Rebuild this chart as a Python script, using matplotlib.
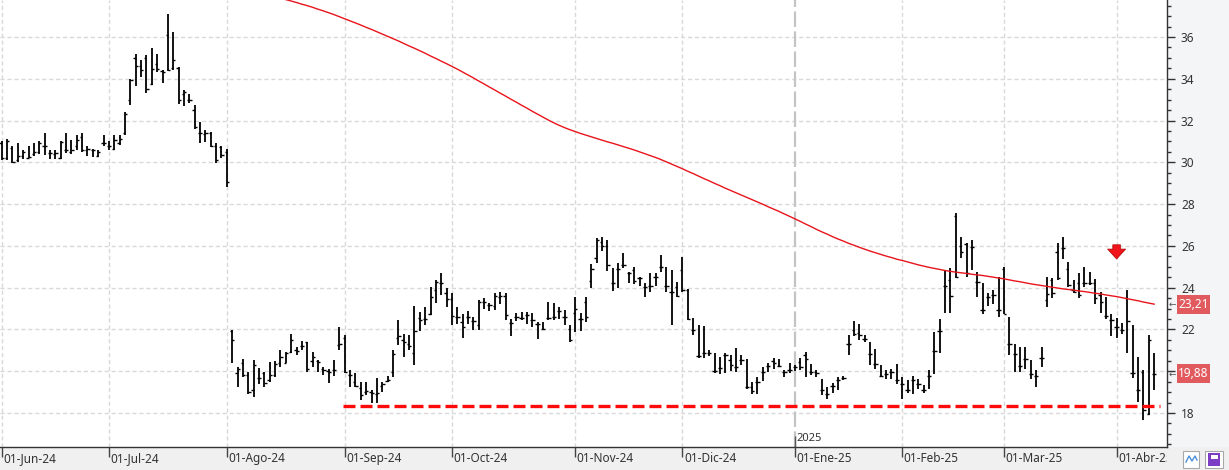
import matplotlib
matplotlib.use('Agg')
import matplotlib.pyplot as plt
import matplotlib.transforms as mtransforms
from matplotlib.patches import Rectangle
from matplotlib.ticker import MultipleLocator
import numpy as np
import pandas as pd

plt.rcParams['font.family'] = ['Noto Sans', 'DejaVu Sans']

# trading calendar (daily bars)
FIRST_DAY = '2024-06-03'
LAST_DAY = '2025-04-10'
HOLIDAYS = ['2024-07-04', '2024-09-02', '2024-11-28', '2024-12-25',
            '2025-01-01', '2025-01-09', '2025-01-20', '2025-02-17']
MESES = {1: 'Ene', 2: 'Feb', 3: 'Mar', 4: 'Abr', 5: 'May', 6: 'Jun',
         7: 'Jul', 8: 'Ago', 9: 'Sep', 10: 'Oct', 11: 'Nov', 12: 'Dic'}

opens = [
    30.9, 30.2, 30.7, 30.1, 30.3, 30.2, 30.4, 30.5, 30.8, 30.45,
    30.4, 30.2, 30.6, 30.5, 30.8, 31.2, 30.6, 30.6, 30.3, 30.9,
    30.8, 30.65, 30.9, 31.4, 33.0, 35.0, 34.6, 35.0, 33.75, 34.7,
    34.35, 36.1, 34.5, 34.5, 33.25, 33.0, 32.5, 31.4, 31.35, 31.4,
    30.8, 30.75, 30.5, 21.9, 19.9, 20.4, 19.8, 19.1, 19.65, 19.9,
    19.6, 19.8, 20.4, 20.4, 20.9, 21.0, 21.2, 21.4, 20.5, 20.5,
    20.1, 20.0, 20.05, 21.25, 21.6, 19.8, 19.5, 19.2, 19.0, 19.0,
    18.9, 19.3, 19.55, 19.95, 21.6, 21.5, 21.3, 20.85, 22.55, 22.5,
    22.75, 23.9, 24.2, 23.72, 23.45, 22.6, 22.36, 22.6, 22.4, 22.2,
    23.3, 23.15, 23.1, 23.55, 23.6, 22.3, 22.6, 22.55, 22.7, 22.44,
    22.25, 22.04, 22.55, 22.6, 22.9, 22.6, 22.0, 22.8, 22.5, 23.3,
    24.3, 25.4, 26.2, 26.0, 24.2, 24.9, 25.1, 24.7, 24.84, 24.45,
    24.05, 24.1, 24.52, 25.0, 24.1, 23.8, 24.05, 24.84, 23.9, 21.97,
    20.73, 20.85, 20.85, 20.0, 20.13, 20.77, 20.55, 20.2, 20.55, 19.25,
    19.25, 19.5, 19.97, 20.25, 20.5, 20.25, 19.97, 20.05, 20.2, 20.45,
    20.77, 19.96, 19.96, 19.1, 18.92, 19.3, 19.59, 19.68, 21.28, 21.99,
    21.85, 21.56, 20.8, 20.33, 19.76, 19.88, 19.96, 19.56, 19.4, 19.08,
    19.56, 19.4, 19.08, 19.75, 20.97, 21.93, 24.07, 24.36, 27.45, 25.99,
    26.08, 25.93, 24.28, 22.95, 23.56, 23.64, 22.95, 24.9, 21.32, 20.84,
    20.23, 20.6, 19.88, 19.75, 20.65, 23.4, 24.36, 25.72, 25.88, 24.88,
    23.88, 24.2, 24.2, 24.2, 24.2, 23.64, 22.64, 22.44, 22.1, 21.96,
    23.48, 19.89, 19.12, 19.97, 17.97, 19.86,
]
highs = [
    31.0, 31.1, 30.8, 30.9, 30.6, 30.8, 30.9, 31.0, 31.4, 30.6,
    30.6, 31.0, 31.4, 31.05, 31.3, 31.4, 30.8, 30.65, 30.6, 31.3,
    31.0, 31.3, 31.3, 32.4, 34.0, 35.2, 34.9, 35.15, 35.45, 35.2,
    34.4, 37.1, 36.25, 34.55, 33.45, 33.25, 32.75, 31.95, 31.55, 31.45,
    30.9, 30.8, 30.65, 21.97, 20.2, 20.6, 19.97, 20.53, 20.13, 19.97,
    20.45, 20.5, 21.0, 20.9, 21.8, 21.17, 21.45, 21.4, 20.9, 20.53,
    20.2, 20.1, 20.55, 22.1, 21.75, 20.05, 19.9, 19.5, 19.5, 19.1,
    19.65, 19.5, 19.75, 21.0, 22.45, 21.8, 21.75, 23.1, 22.84, 23.05,
    24.05, 24.35, 24.68, 23.96, 23.72, 23.08, 22.76, 22.88, 22.6, 23.4,
    23.48, 23.27, 23.72, 23.8, 23.72, 22.52, 22.8, 22.84, 22.84, 22.8,
    22.36, 22.36, 23.32, 23.27, 23.08, 22.92, 22.2, 23.57, 22.8, 23.55,
    25.15, 26.36, 26.44, 26.28, 24.92, 25.16, 25.64, 24.76, 25.0, 24.52,
    24.21, 24.68, 24.71, 25.56, 24.97, 24.84, 24.28, 25.45, 23.92, 22.53,
    22.21, 22.16, 21.01, 20.85, 20.69, 20.85, 20.77, 21.09, 20.77, 20.56,
    19.49, 19.73, 20.21, 20.4, 20.61, 20.56, 20.05, 20.37, 20.3, 20.61,
    20.93, 20.33, 20.05, 19.64, 19.24, 19.43, 19.72, 19.75, 21.72, 22.41,
    22.28, 21.72, 21.4, 21.08, 20.28, 20.04, 20.12, 20.33, 19.72, 19.56,
    19.75, 19.64, 19.32, 20.04, 21.88, 22.52, 24.84, 24.92, 27.56, 26.44,
    26.12, 26.28, 24.76, 24.2, 23.75, 23.91, 24.52, 25.0, 22.6, 21.29,
    21.16, 21.16, 20.52, 20.04, 21.16, 24.52, 24.44, 26.12, 26.44, 25.24,
    24.36, 24.68, 25.0, 24.76, 24.4, 23.8, 23.56, 22.76, 22.56, 22.3,
    23.88, 22.2, 20.69, 20.05, 21.72, 20.85,
]
lows = [
    30.1, 30.1, 29.95, 30.0, 30.15, 30.2, 30.3, 30.4, 30.35, 30.15,
    30.15, 30.15, 30.45, 30.4, 30.6, 30.5, 30.3, 30.25, 30.25, 30.8,
    30.6, 30.6, 30.85, 31.3, 32.75, 33.65, 34.1, 33.3, 33.7, 34.3,
    33.8, 34.35, 34.4, 32.8, 32.7, 32.85, 31.6, 30.9, 30.95, 30.75,
    29.95, 30.2, 28.8, 20.37, 19.25, 19.73, 18.93, 18.77, 19.41, 19.25,
    19.49, 19.73, 20.2, 20.37, 20.85, 20.77, 21.0, 19.97, 20.2, 19.97,
    19.8, 19.45, 19.75, 21.0, 19.9, 19.25, 19.25, 18.6, 18.85, 18.5,
    18.5, 19.0, 19.5, 19.73, 21.25, 20.7, 21.0, 20.3, 21.9, 22.2,
    22.7, 23.25, 23.65, 23.08, 22.2, 22.28, 21.6, 22.28, 21.98, 21.98,
    23.0, 22.9, 22.95, 23.24, 22.44, 21.68, 22.4, 22.44, 22.24, 22.12,
    21.56, 21.96, 22.44, 22.44, 22.5, 22.2, 21.4, 21.89, 21.9, 22.37,
    23.97, 25.16, 25.77, 24.81, 23.85, 23.97, 24.92, 24.21, 24.18, 24.08,
    23.54, 23.81, 24.08, 24.76, 23.81, 22.21, 23.57, 23.81, 22.45, 21.73,
    20.61, 20.61, 20.73, 19.93, 19.86, 19.93, 20.02, 19.97, 20.3, 19.17,
    18.93, 18.93, 19.54, 19.97, 20.09, 20.18, 19.73, 19.89, 20.0, 20.05,
    19.72, 19.81, 19.72, 18.84, 18.68, 18.95, 19.11, 19.56, 20.76, 21.69,
    21.48, 21.4, 20.28, 20.12, 19.72, 19.64, 19.64, 19.37, 18.68, 18.95,
    18.92, 19.16, 18.95, 19.16, 19.85, 20.87, 22.79, 22.79, 24.44, 25.4,
    24.52, 24.84, 23.56, 22.76, 23.12, 23.24, 22.6, 22.76, 20.76, 19.96,
    19.96, 20.12, 19.64, 19.24, 20.2, 23.08, 23.48, 24.36, 25.36, 24.04,
    23.72, 23.48, 24.04, 24.12, 23.24, 22.8, 22.48, 21.68, 21.6, 21.76,
    20.85, 19.65, 18.53, 17.65, 17.89, 19.09,
]
closes = [
    30.2, 31.0, 30.0, 30.3, 30.5, 30.25, 30.5, 30.9, 30.8, 30.45,
    30.45, 30.95, 30.6, 30.6, 31.05, 30.6, 30.65, 30.6, 30.5, 30.9,
    30.8, 31.05, 31.1, 32.3, 33.95, 34.6, 34.4, 33.5, 34.45, 34.45,
    34.3, 34.4, 34.9, 33.0, 33.35, 33.0, 31.7, 31.4, 31.4, 30.8,
    30.1, 30.35, 29.05, 21.5, 20.1, 19.8, 19.0, 20.3, 19.65, 19.45,
    19.8, 20.35, 20.7, 20.85, 21.5, 20.95, 21.2, 20.1, 20.7, 20.45,
    20.05, 19.95, 20.05, 21.3, 19.95, 19.8, 19.3, 18.85, 19.05, 18.95,
    18.95, 19.4, 19.6, 20.8, 21.7, 21.4, 21.2, 21.9, 22.45, 22.5,
    23.55, 24.28, 24.2, 23.45, 22.65, 22.6, 22.1, 22.6, 22.4, 23.3,
    23.3, 23.15, 23.6, 23.6, 22.68, 22.3, 22.6, 22.55, 22.7, 22.44,
    22.25, 22.04, 22.55, 22.6, 22.9, 22.6, 21.5, 23.0, 22.5, 22.6,
    24.9, 26.3, 26.0, 25.1, 24.2, 24.9, 25.1, 24.7, 24.3, 24.45,
    24.05, 24.1, 24.52, 25.0, 24.1, 23.8, 23.6, 23.9, 22.5, 21.97,
    20.73, 20.85, 20.85, 20.0, 20.13, 20.77, 20.3, 20.2, 20.55, 19.25,
    19.05, 19.5, 19.97, 20.25, 20.4, 20.25, 19.97, 20.05, 20.2, 20.2,
    20.6, 19.96, 19.9, 19.1, 18.92, 19.3, 19.59, 19.68, 21.28, 21.8,
    21.72, 21.56, 20.8, 20.33, 19.76, 19.88, 19.96, 19.56, 19.4, 19.08,
    19.56, 19.4, 19.08, 19.75, 20.97, 21.93, 24.07, 23.6, 24.52, 25.72,
    24.68, 25.93, 24.28, 22.95, 23.56, 23.64, 22.95, 22.76, 21.32, 20.84,
    20.23, 20.6, 19.88, 19.75, 20.65, 23.68, 23.72, 24.44, 25.88, 24.12,
    23.8, 23.64, 24.2, 24.2, 23.48, 23.32, 22.64, 22.44, 22.1, 21.96,
    22.4, 19.89, 19.12, 18.13, 21.48, 19.88,
]

# long moving average, only the part that falls inside the window (ends on last bar)
moving_avg = [
    37.85, 37.79, 37.72, 37.65, 37.57, 37.50, 37.42, 37.33, 37.25, 37.16, 37.07, 36.97,
    36.87, 36.77, 36.67, 36.57, 36.46, 36.36, 36.25, 36.14, 36.03, 35.92, 35.81,
    35.69, 35.57, 35.46, 35.34, 35.22, 35.09, 34.97, 34.84, 34.72, 34.59, 34.46,
    34.32, 34.18, 34.04, 33.89, 33.75, 33.60, 33.46, 33.31, 33.17, 33.02,
    32.88, 32.73, 32.59, 32.44, 32.30, 32.16, 32.02, 31.89, 31.77,
    31.66, 31.56, 31.47, 31.38, 31.30, 31.22, 31.14, 31.06, 30.98,
    30.91, 30.83, 30.75, 30.67, 30.59, 30.50, 30.41, 30.32,
    30.23, 30.13, 30.02, 29.91, 29.80, 29.69,
    29.57, 29.46, 29.34, 29.22, 29.11, 28.99, 28.88,
    28.76, 28.65, 28.54, 28.43, 28.32, 28.21, 28.10, 27.99,
    27.87, 27.76, 27.65, 27.53, 27.41, 27.29, 27.17,
    27.04, 26.92, 26.79, 26.67, 26.56, 26.44, 26.33, 26.23,
    26.12, 26.03, 25.93, 25.84, 25.75, 25.67, 25.59, 25.51, 25.44, 25.36, 25.30,
    25.23, 25.16, 25.09, 25.03, 24.97, 24.92, 24.87, 24.82,
    24.78, 24.74, 24.71, 24.68, 24.64, 24.61, 24.58, 24.54, 24.50, 24.46,
    24.42, 24.37, 24.32, 24.28, 24.23, 24.18, 24.14, 24.10, 24.06, 24.02,
    23.98, 23.94, 23.91, 23.88, 23.84, 23.81, 23.77, 23.73,
    23.70, 23.65, 23.61, 23.57, 23.52, 23.47,
    23.42, 23.37, 23.31, 23.26, 23.21,
]

SUPPORT = 18.33
SUPPORT_FROM = '2024-09-03'
SIGNAL_DAY = '2025-04-01'
SIGNAL_TOP, SIGNAL_TIP = 26.05, 25.37

dates = pd.bdate_range(FIRST_DAY, LAST_DAY, freq='C', holidays=HOLIDAYS)
n = len(dates)
assert n == len(opens) == len(highs) == len(lows) == len(closes), (n, len(opens), len(highs), len(lows), len(closes))
x = np.arange(n)
ma_x = x[n - len(moving_avg):]

W, H = 1229, 470
PLOT_W, PLOT_H = 1167, 447
RED = '#e8141c'
LABEL_RED = '#e05a5e'
TXT = '#333333'
GRID = '#d9d9d9'

fig = plt.figure(figsize=(W / 100, H / 100), dpi=100, facecolor='#f4f5f7')
fig.add_artist(Rectangle((0, 0), 1, (H - PLOT_H) / H, transform=fig.transFigure,
                         facecolor='#f0f0f0', edgecolor='none', zorder=0))
ax = fig.add_axes([0, (H - PLOT_H) / H, PLOT_W / W, PLOT_H / H])
axb = fig.add_axes([0, 0, PLOT_W / W, (H - PLOT_H) / H], sharex=ax)
axb.set_facecolor('none')
axb.set_ylim(0, 1)
axb.axis('off')

# OHLC bars
ax.vlines(x, lows, highs, color='black', lw=1.3, zorder=3)
ax.hlines(opens, x - 0.42, x, color='black', lw=1.0, zorder=3)
ax.hlines(closes, x, x + 0.42, color='black', lw=1.0, zorder=3)

ax.plot(ma_x, moving_avg, color=RED, lw=1.0, zorder=4)

sup_start = dates.get_loc(pd.Timestamp(SUPPORT_FROM)) - 0.3
ax.hlines(SUPPORT, sup_start, n + 0.1, color='#ff0a0a', lw=2.4,
          linestyles=(0, (3.6, 1.5)), zorder=5)

sig_x = dates.get_loc(pd.Timestamp(SIGNAL_DAY))
ax.annotate('', xy=(sig_x, SIGNAL_TIP), xytext=(sig_x, SIGNAL_TOP),
            arrowprops=dict(arrowstyle='simple,head_length=0.55,head_width=1.0,tail_width=0.42',
                            fc='#f0141c', ec='#b30000', lw=0.5, mutation_scale=13,
                            shrinkA=0, shrinkB=0), zorder=6)

ax.set_xlim(-0.32, 217.4)
ax.set_ylim(16.37, 37.77)

# month separators
month_start = [i for i in range(n) if i == 0 or dates[i].month != dates[i - 1].month]
for i in month_start:
    d = dates[i]
    if d.month == 1:
        ax.axvline(i, color='#c4c4c4', lw=1.6, ls=(0, (7, 2)), zorder=1)
        ax.vlines(i, 16.37, 16.37 + 11 / 20.89, color='#555555', lw=1.0, zorder=2)
        ax.text(i + 0.35, 16.37 + 8.5 / 20.89, str(d.year), fontsize=8, color=TXT,
                ha='left', va='center')
    else:
        ax.axvline(i, color=GRID, lw=1.0, ls=(0, (3, 2)), zorder=1)
    axb.vlines(i, 0.58, 1.0, color='#444444', lw=1.0)
    axb.text(i + 0.3, 0.5, f"01-{MESES[d.month]}-{d.strftime('%y')}", fontsize=8.5,
             color=TXT, ha='left', va='center', clip_on=True)

yticks = np.arange(18, 37, 2)
ax.set_yticks(yticks)
# the last-close tag sits on top of the nearest price label
ax.set_yticklabels(['' if abs(t - closes[-1]) < 0.6 else str(t) for t in yticks])
ax.yaxis.set_minor_locator(MultipleLocator(0.5))
ax.yaxis.tick_right()
ax.yaxis.grid(True, color=GRID, lw=1.0, ls=(0, (3, 2)), zorder=1)
ax.tick_params(axis='y', which='major', length=6, width=1, color=TXT,
               labelsize=8.5, labelcolor=TXT, pad=4)
ax.tick_params(axis='y', which='minor', length=3, width=1, color=TXT)
ax.tick_params(axis='x', bottom=False, labelbottom=False)
for side in ['top', 'left']:
    ax.spines[side].set_visible(False)
for side in ['right', 'bottom']:
    ax.spines[side].set_color(TXT)
    ax.spines[side].set_linewidth(1.0)
ax.set_axisbelow(True)

# last-value tags on the price axis
tag = mtransforms.blended_transform_factory(fig.transFigure, ax.transData)
half = 9.5 / 20.89
for val in [moving_avg[-1], closes[-1]]:
    fig.add_artist(Rectangle((1177 / W, val - half), 33 / W, 2 * half, transform=tag,
                             facecolor=LABEL_RED, edgecolor='none', zorder=10))
    fig.text(1193.5 / W, val, f'{val:.2f}'.replace('.', ','), transform=tag,
             color='white', fontsize=8.5, ha='center', va='center', zorder=11)
    fig.text(1168.5 / W, val, '←', transform=tag, color='#555555', fontsize=6.5,
             ha='left', va='center', zorder=11, family='DejaVu Sans')

# small toolbar icons bottom right
fig.add_artist(Rectangle((1183 / W, 2 / H), 16 / W, 17 / H, transform=fig.transFigure,
                         facecolor='white', edgecolor='#a9a9a9', lw=0.8, zorder=10))
fig.add_artist(plt.Line2D([1186 / W, 1189 / W, 1192 / W, 1195 / W, 1197 / W],
                          [8 / H, 14 / H, 9 / H, 14 / H, 10 / H], transform=fig.transFigure,
                          color='#4a90d9', lw=1.0, zorder=11))
fig.add_artist(Rectangle((1205 / W, 2 / H), 18 / W, 17 / H, transform=fig.transFigure,
                         facecolor='white', edgecolor='#a9a9a9', lw=0.8, zorder=10))
fig.add_artist(Rectangle((1208 / W, 4 / H), 12 / W, 13 / H, transform=fig.transFigure,
                         facecolor='#7d3cc4', edgecolor='none', zorder=11))
fig.add_artist(Rectangle((1210.5 / W, 11 / H), 7 / W, 4.5 / H, transform=fig.transFigure,
                         facecolor='white', edgecolor='none', zorder=12))

fig.savefig('out.png', dpi=100, facecolor=fig.get_facecolor())
